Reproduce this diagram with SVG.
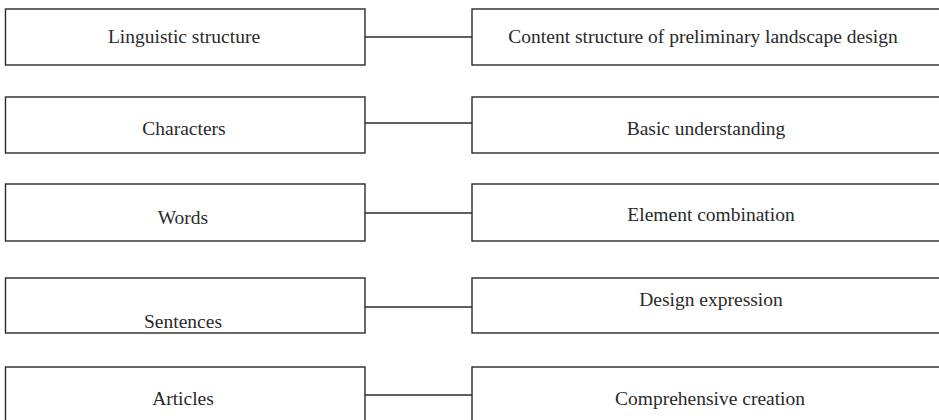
<svg xmlns="http://www.w3.org/2000/svg" width="939" height="420" viewBox="0 0 939 420">
<style>
.box{fill:#fff;stroke:#2a2a2a;stroke-width:1.4}
.lbl{font-family:"Liberation Serif","Times New Roman",serif;font-size:19.5px;fill:#2a2a2a;text-anchor:middle}
.con{stroke:#2a2a2a;stroke-width:1.4;fill:none}
</style>
<rect width="939" height="420" fill="#fff"/>
<g id="connectors">
<line class="con" x1="365" y1="37" x2="472" y2="37"/>
<line class="con" x1="365" y1="123" x2="472" y2="123"/>
<line class="con" x1="365" y1="213" x2="472" y2="213"/>
<line class="con" x1="365" y1="307" x2="472" y2="307"/>
<line class="con" x1="365" y1="395" x2="472" y2="395"/>
</g>
<g id="n-linguistic"><rect class="box" x="5.5" y="9" width="359.5" height="56"/><text class="lbl" x="184" y="43">Linguistic structure</text></g>
<g id="n-characters"><rect class="box" x="5.5" y="97" width="359.5" height="56"/><text class="lbl" x="184" y="135">Characters</text></g>
<g id="n-words"><rect class="box" x="5.5" y="184" width="359.5" height="57"/><text class="lbl" x="183" y="224">Words</text></g>
<g id="n-sentences"><rect class="box" x="5.5" y="278" width="359.5" height="55"/><text class="lbl" x="183" y="328">Sentences</text></g>
<g id="n-articles"><rect class="box" x="5.5" y="367" width="359.5" height="60"/><text class="lbl" x="183" y="405">Articles</text></g>
<g id="n-content"><rect class="box" x="472" y="9" width="480" height="56"/><text class="lbl" x="703" y="43">Content structure of preliminary landscape design</text></g>
<g id="n-basic"><rect class="box" x="472" y="97" width="480" height="56"/><text class="lbl" x="706" y="135">Basic understanding</text></g>
<g id="n-element"><rect class="box" x="472" y="184" width="480" height="57"/><text class="lbl" x="711" y="221">Element combination</text></g>
<g id="n-design"><rect class="box" x="472" y="278" width="480" height="55"/><text class="lbl" x="711" y="306">Design expression</text></g>
<g id="n-comprehensive"><rect class="box" x="472" y="367" width="480" height="60"/><text class="lbl" x="710" y="405">Comprehensive creation</text></g>
</svg>
